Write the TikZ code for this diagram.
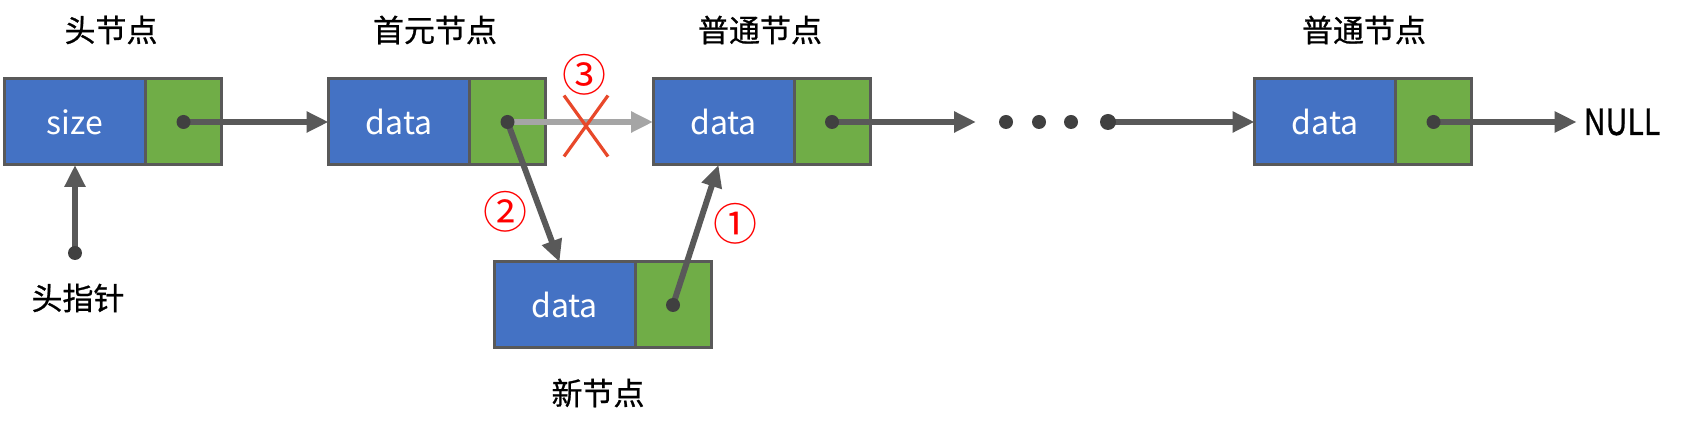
\documentclass[tikz,border=0pt]{standalone}
\usepackage{fontspec}
\setmainfont{Noto Sans CJK SC}
\newfontfamily\labelfont[FakeBold=0.8]{Noto Sans CJK SC}
\usetikzlibrary{positioning,arrows.meta}
\definecolor{nodeblue}{HTML}{4472C4}
\definecolor{nodegreen}{HTML}{70AD47}
\definecolor{linkgray}{HTML}{595959}
\definecolor{dotgray}{HTML}{404040}
\definecolor{oldgray}{HTML}{A5A5A5}
\definecolor{crossred}{HTML}{E8482A}
\begin{document}
\begin{tikzpicture}
[x=0.5pt,y=-0.5pt,
 datapart/.style={draw=linkgray,line width=1.5pt,fill=nodeblue,text=white,minimum width=70.5pt,minimum height=43pt,inner sep=0pt,outer sep=0pt,font=\fontsize{16}{18}\selectfont},
 nextpart/.style={draw=linkgray,line width=1.5pt,fill=nodegreen,minimum width=38pt,minimum height=43pt,inner sep=0pt,outer sep=0pt,right=0pt of #1},
 title/.style={font=\labelfont\fontsize{15.5}{18}\selectfont},
 stepnum/.style={text=red,font=\fontsize{22}{24}\selectfont},
 link/.style={draw=linkgray,line width=3pt,-{Triangle[length=11pt,width=10pt]}},
 cross/.style={draw=crossred,line width=1.6pt}]
\useasboundingbox (0,0) rectangle (1702,437);
% nodes of the list
\node [datapart] (h) at (75,122) {size};
\node [nextpart=h] (hp) {};
\node [datapart] (f) at (399,122) {data};
\node [nextpart=f] (fp) {};
\node [datapart] (n1) at (723.5,122) {data};
\node [nextpart=n1] (n1p) {};
\node [datapart] (n2) at (1325,122) {data};
\node [nextpart=n2] (n2p) {};
\node [datapart] (new) at (564.5,305) {data};
\node [nextpart=new] (newp) {};
% labels
\node [title] (lh) at (111,30) {头节点};
\node [title] (lf) at (435,30) {首元节点};
\node [title] (l1) at (760,30) {普通节点};
\node [title] (l2) at (1364,30) {普通节点};
\node [title] (lnew) at (598,393) {新节点};
\node [title] (lptr) at (78,298) {头指针};
\node [title,font=\labelfont\fontsize{18}{20}\selectfont] (null) at (1622,122) {\scalebox{0.84}[1]{NULL}};
% links
\coordinate (hdot) at (75,253);
\coordinate (gap) at (976,122);
\coordinate (resume) at (1108,122);
\draw [link] (hdot) -- (h.south);
\draw [link] (hp.center) -- (f.west);
\draw [link,draw=oldgray] (fp.center) -- (n1.west);
\draw [link] (fp.center) -- ([xshift=-2.5pt]new.north);
\draw [link] (newp.center) -- ([xshift=-2.5pt]n1.south);
\draw [link] (n1p.center) -- (gap);
\draw [link] (resume) -- (n2.west);
\draw [link] (n2p.center) -- (null.west);
\foreach \d in {hp,fp,n1p,n2p,newp,hdot}
  \fill [dotgray] (\d) circle (3.5pt);
\foreach \x in {1006,1039,1071}
  \fill [dotgray] (\x,122) circle (3.5pt);
\fill [dotgray] (resume) circle (4pt);
% the broken link
\draw [cross] (586,126) +(-22,-30.5) -- +(22,30.5) +(22,-30.5) -- +(-22,30.5);
\node [stepnum] (s3) at (584,75) {③};
\node [stepnum] (s2) at (505,212) {②};
\node [stepnum] (s1) at (735,224) {①};
\end{tikzpicture}
\end{document}
